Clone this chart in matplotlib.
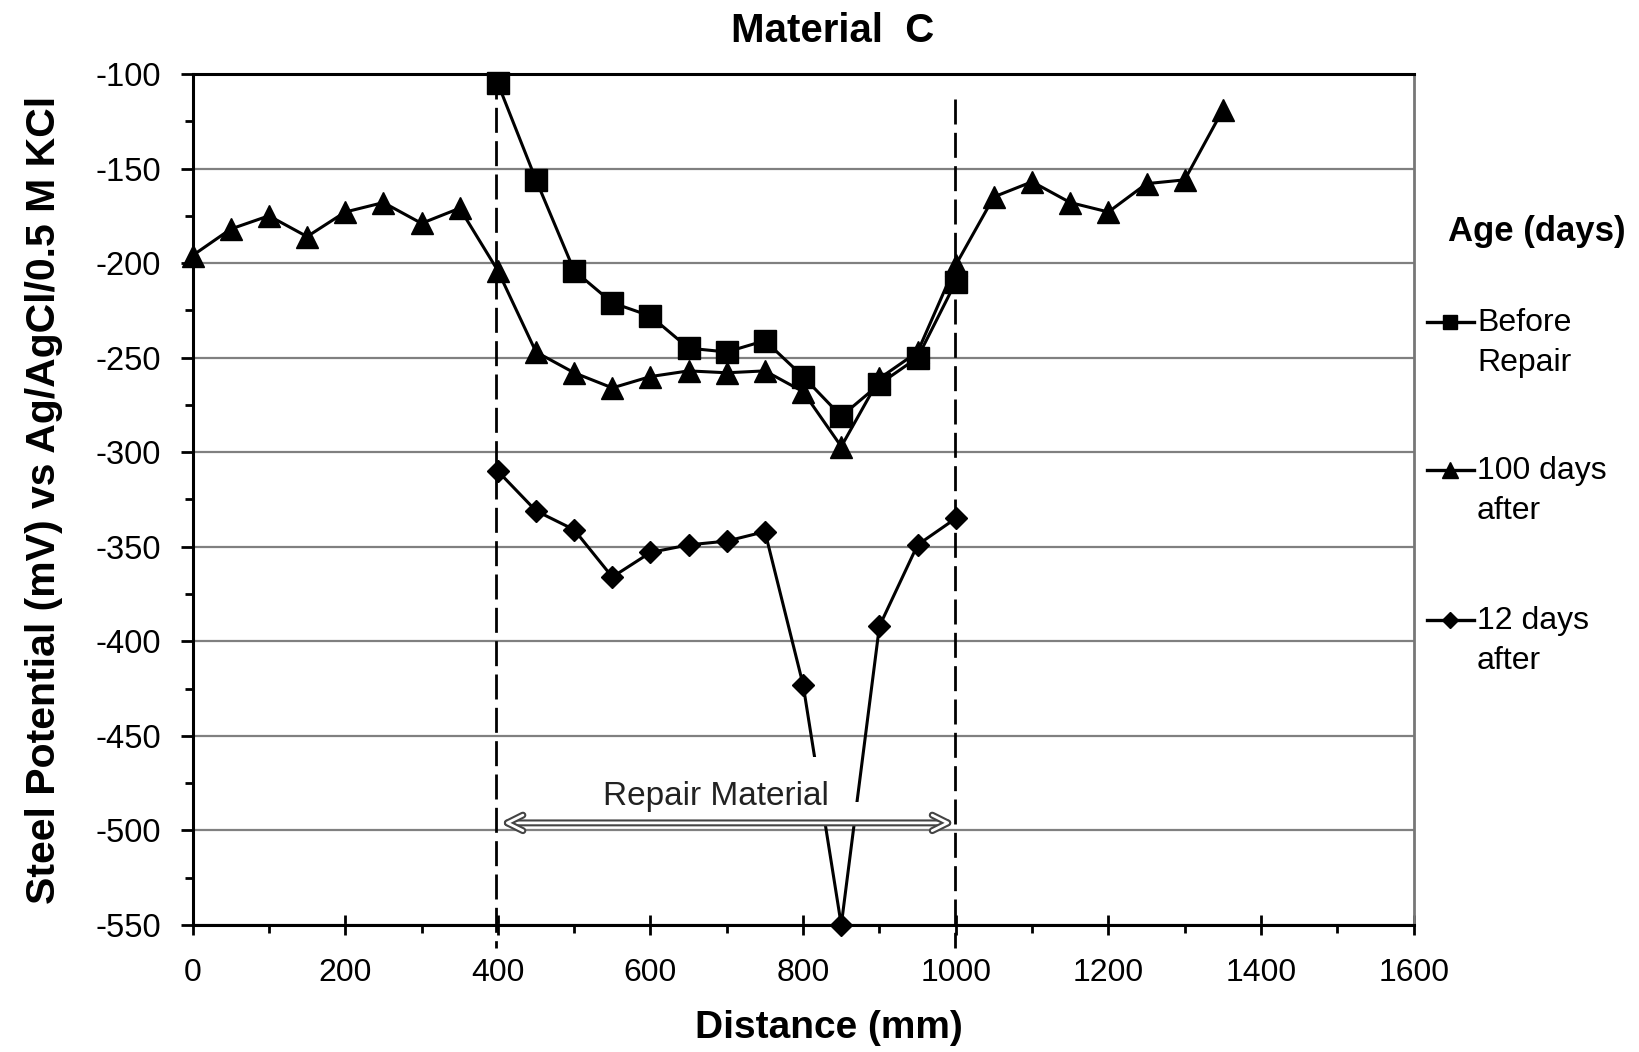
import matplotlib

matplotlib.use("Agg")
import matplotlib.pyplot as plt
import matplotlib.patheffects as pe
from matplotlib import font_manager
from matplotlib.lines import Line2D
from matplotlib.patches import Rectangle
from matplotlib.ticker import MultipleLocator

# data
DIST_100 = [0, 50, 100, 150, 200, 250, 300, 350, 400, 450, 500, 550, 600, 650,
            700, 750, 800, 850, 900, 950, 1000, 1050, 1100, 1150, 1200, 1250, 1300, 1350]
POT_100 = [-196, -182, -175, -186, -173, -168, -179, -171, -204, -247, -258, -266, -260, -257,
           -258, -257, -268, -297, -261, -247, -201, -165, -157, -168, -173, -158, -156, -119]

DIST_REPAIR = [400, 450, 500, 550, 600, 650, 700, 750, 800, 850, 900, 950, 1000]
POT_BEFORE = [-105, -156, -204, -221, -228, -245, -247, -241, -260, -281, -264, -250, -210]
POT_12 = [-310, -331, -341, -366, -353, -349, -347, -342, -423, -550, -392, -349, -335]

LABELS = ["Before\nRepair", "100 days\nafter", "12 days\nafter"]
REPAIR_START, REPAIR_END = 397, 999

names = {f.name for f in font_manager.fontManager.ttflist}
BASE = "Liberation Sans" if "Liberation Sans" in names else "DejaVu Sans"
plt.rcParams["font.family"] = [BASE, "DejaVu Sans"]
plt.rcParams["axes.unicode_minus"] = False

W, H = 1639, 1052
fig = plt.figure(figsize=(W / 100, H / 100), dpi=100)
ax = fig.add_axes([0.1175, 0.1207, 0.745, 0.8090])

line_kw = dict(color="black", lw=2.2, clip_on=False, zorder=4)
ax.plot(DIST_100, POT_100, marker="^", ms=16, **line_kw)
ax.plot(DIST_REPAIR, POT_BEFORE, marker="s", ms=15.5, **line_kw)
ax.plot(DIST_REPAIR, POT_12, marker="D", ms=11.5, **line_kw)

ax.set_xlim(0, 1600)
ax.set_ylim(-550, -100)
ax.xaxis.set_major_locator(MultipleLocator(200))
ax.xaxis.set_minor_locator(MultipleLocator(100))
ax.yaxis.set_major_locator(MultipleLocator(50))
ax.yaxis.set_minor_locator(MultipleLocator(25))
ax.grid(axis="y", which="major", color="#808080", lw=1.6, zorder=0)
ax.set_axisbelow(True)

for side in ("left", "bottom", "top"):
    ax.spines[side].set_linewidth(2.2)
ax.spines["right"].set_color("#777777")
ax.spines["right"].set_linewidth(2)

ax.tick_params(axis="y", which="major", direction="out", length=9, width=2,
               labelsize=23.5, pad=14)
ax.tick_params(axis="y", which="minor", direction="out", length=6, width=2)
ax.tick_params(axis="x", which="major", direction="inout", length=14, width=2,
               labelsize=23, pad=17)
ax.tick_params(axis="x", which="minor", direction="out", length=6, width=2)

# repair zone boundaries
for x0, ytop in ((REPAIR_START, -100), (REPAIR_END, -113)):
    ax.plot([x0, x0], [ytop, -562], color="black", lw=2, ls=(0, (9, 3)),
            clip_on=False, zorder=3)

# label for the repaired zone, with white backing that hides the series
ax.add_patch(Rectangle((520, -497), 340, 36, facecolor="white", edgecolor="none",
                       zorder=5))
ax.add_patch(Rectangle((520, -497), 358, 12, facecolor="white", edgecolor="none",
                       zorder=5))
ax.text(686, -482, "Repair Material", fontsize=24, ha="center", va="center",
        color="#222222", zorder=6)
arr = ax.annotate("", xy=(410, -496), xytext=(992, -496),
                  arrowprops=dict(arrowstyle="<->", color="#444444", lw=1.2,
                                  mutation_scale=28, shrinkA=0, shrinkB=0),
                  zorder=6)
arr.arrow_patch.set_path_effects([pe.Stroke(linewidth=5, foreground="#444444"),
                                  pe.Stroke(linewidth=2, foreground="white")])

fig.text(833 / W, 1 - 31 / H, "Material  C", fontsize=29, fontweight="bold",
         ha="center", va="center")
ax.set_xlabel("Distance (mm)", fontsize=28, fontweight="bold")
ax.xaxis.set_label_coords(0.521, -0.121)
ax.xaxis.label.set_va("center")
ax.set_ylabel("Steel Potential (mV) vs Ag/AgCl/0.5 M KCl", fontsize=29.5,
              fontweight="bold")
ax.yaxis.set_label_coords(-0.122, 0.5)
ax.yaxis.label.set_va("center")

# legend drawn by hand so the marker sits on the first text line
fig.text(1448 / W, 1 - 232 / H, "Age (days)", fontsize=25, fontweight="bold",
         ha="left", va="center")
markers = [("s", 10), ("^", 11), ("D", 8)]
first_line_y = [322, 470, 620]
for (mk, ms), lab, y in zip(markers, LABELS, first_line_y):
    fy = 1 - y / H
    fig.add_artist(Line2D([1427 / W, 1474 / W], [fy, fy], color="black", lw=2.4,
                          transform=fig.transFigure))
    fig.add_artist(Line2D([1450 / W], [fy], marker=mk, ms=ms, color="black",
                          transform=fig.transFigure))
    fig.text(1477 / W, 1 - (y + 21) / H, lab, fontsize=23, ha="left", va="center",
             linespacing=1.45, transform=fig.transFigure)

fig.savefig("out.png", dpi=100)
